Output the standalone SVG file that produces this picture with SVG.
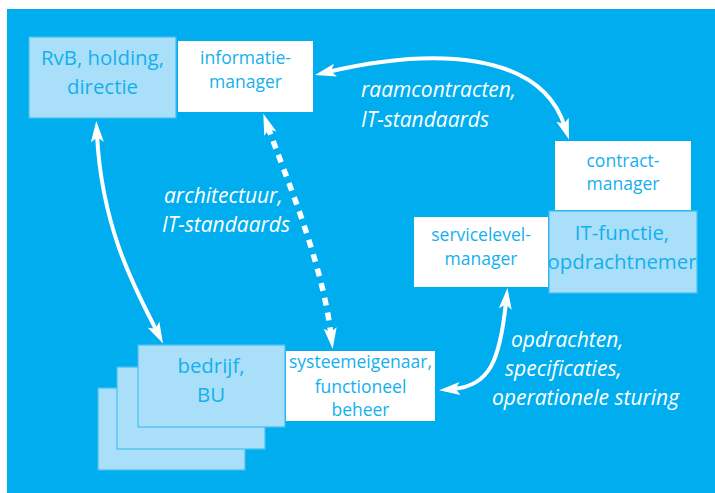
<svg xmlns="http://www.w3.org/2000/svg" width="715" height="493" viewBox="0 0 715 493">
  <style>
    .bg { fill: #00aeef; }
    .box-white { fill: #ffffff; }
    .box-light { fill: #a9dff9; stroke: #45c0f0; stroke-width: 1.2; }
    .t-box { font-family: "Open Sans", "Noto Sans", sans-serif; fill: #14b0ee; text-anchor: middle; }
    .t-big { font-size: 20.4px; }
    .t-small { font-size: 17.5px; }
    .t-label { font-family: "Open Sans", "Noto Sans", sans-serif; font-style: italic; font-size: 21px; fill: #ffffff; }
    .link { fill: none; stroke: #ffffff; stroke-width: 4; marker-start: url(#head); marker-end: url(#head); }
    .link-dotted { fill: none; stroke: #ffffff; stroke-width: 5.5; stroke-dasharray: 8 7; marker-start: url(#head); marker-end: url(#head); }
  </style>
  <defs>
    <marker id="head" markerUnits="userSpaceOnUse" orient="auto-start-reverse" refX="0" refY="0" markerWidth="40" markerHeight="40" viewBox="-20 -20 40 40" overflow="visible">
      <path d="M-7,-6.5 L14,0 L-7,6.5 L-2.5,0 Z" fill="#ffffff"/>
    </marker>
  </defs>

  <rect class="bg" x="7" y="9" width="708" height="484"/>

  <!-- stacked business units -->
  <g id="bedrijf">
    <rect class="box-light" x="98" y="388" width="147" height="82" stroke="none"/>
    <rect class="box-light" x="117" y="367" width="148" height="82"/>
    <rect class="box-light" x="138" y="345" width="147" height="82"/>
    <text class="t-box t-big" x="211" y="373">bedrijf,</text>
    <text class="t-box t-big" x="211" y="402">BU</text>
  </g>

  <g id="rvb">
    <rect class="box-light" x="29" y="37" width="147" height="81"/>
    <text class="t-box t-big" x="102.5" y="65">RvB, holding,</text>
    <text class="t-box t-big" x="102.5" y="94">directie</text>
  </g>

  <g id="informatiemanager">
    <rect class="box-white" x="178" y="41" width="135" height="71"/>
    <text class="t-box t-small" x="245.5" y="64">informatie-</text>
    <text class="t-box t-small" x="245.5" y="88">manager</text>
  </g>

  <g id="contractmanager">
    <rect class="box-white" x="555" y="141" width="136" height="69"/>
    <text class="t-box t-small" x="623" y="167">contract-</text>
    <text class="t-box t-small" x="623" y="190">manager</text>
  </g>

  <g id="itfunctie">
    <rect class="box-light" x="549" y="211" width="148" height="82"/>
    <text class="t-box t-big" x="622" y="240">IT-functie,</text>
    <text class="t-box t-big" x="622" y="269">opdrachtnemer</text>
  </g>

  <g id="servicelevelmanager">
    <rect class="box-white" x="414" y="217" width="134" height="70"/>
    <text class="t-box t-small" x="481" y="241">servicelevel-</text>
    <text class="t-box t-small" x="481" y="265">manager</text>
  </g>

  <g id="systeemeigenaar">
    <rect class="box-white" x="286" y="351" width="149" height="70"/>
    <text class="t-box t-small" x="360.5" y="368">systeemeigenaar,</text>
    <text class="t-box t-small" x="360.5" y="393">functioneel</text>
    <text class="t-box t-small" x="360.5" y="416">beheer</text>
  </g>

  <!-- connectors -->
  <g id="connectors">
    <path class="link" d="M97,135 C102,230 136,290 156.7,331"/>
    <path class="link-dotted" d="M268,127 C285,175 322,260 331,335"/>
    <path class="link" d="M328.6,71.8 C430,48 540,50 564.7,126.3"/>
    <path class="link" d="M506,302 C500,360 490,386 453,389"/>
  </g>

  <!-- connector labels -->
  <g id="labels">
    <text class="t-label" x="361" y="97">raamcontracten,</text>
    <text class="t-label" x="361" y="127">IT-standaards</text>
    <text class="t-label" x="164" y="203">architectuur,</text>
    <text class="t-label" x="162" y="232">IT-standaards</text>
    <text class="t-label" x="511" y="347">opdrachten,</text>
    <text class="t-label" x="505" y="376">specificaties,</text>
    <text class="t-label" x="492" y="405">operationele sturing</text>
  </g>
</svg>
